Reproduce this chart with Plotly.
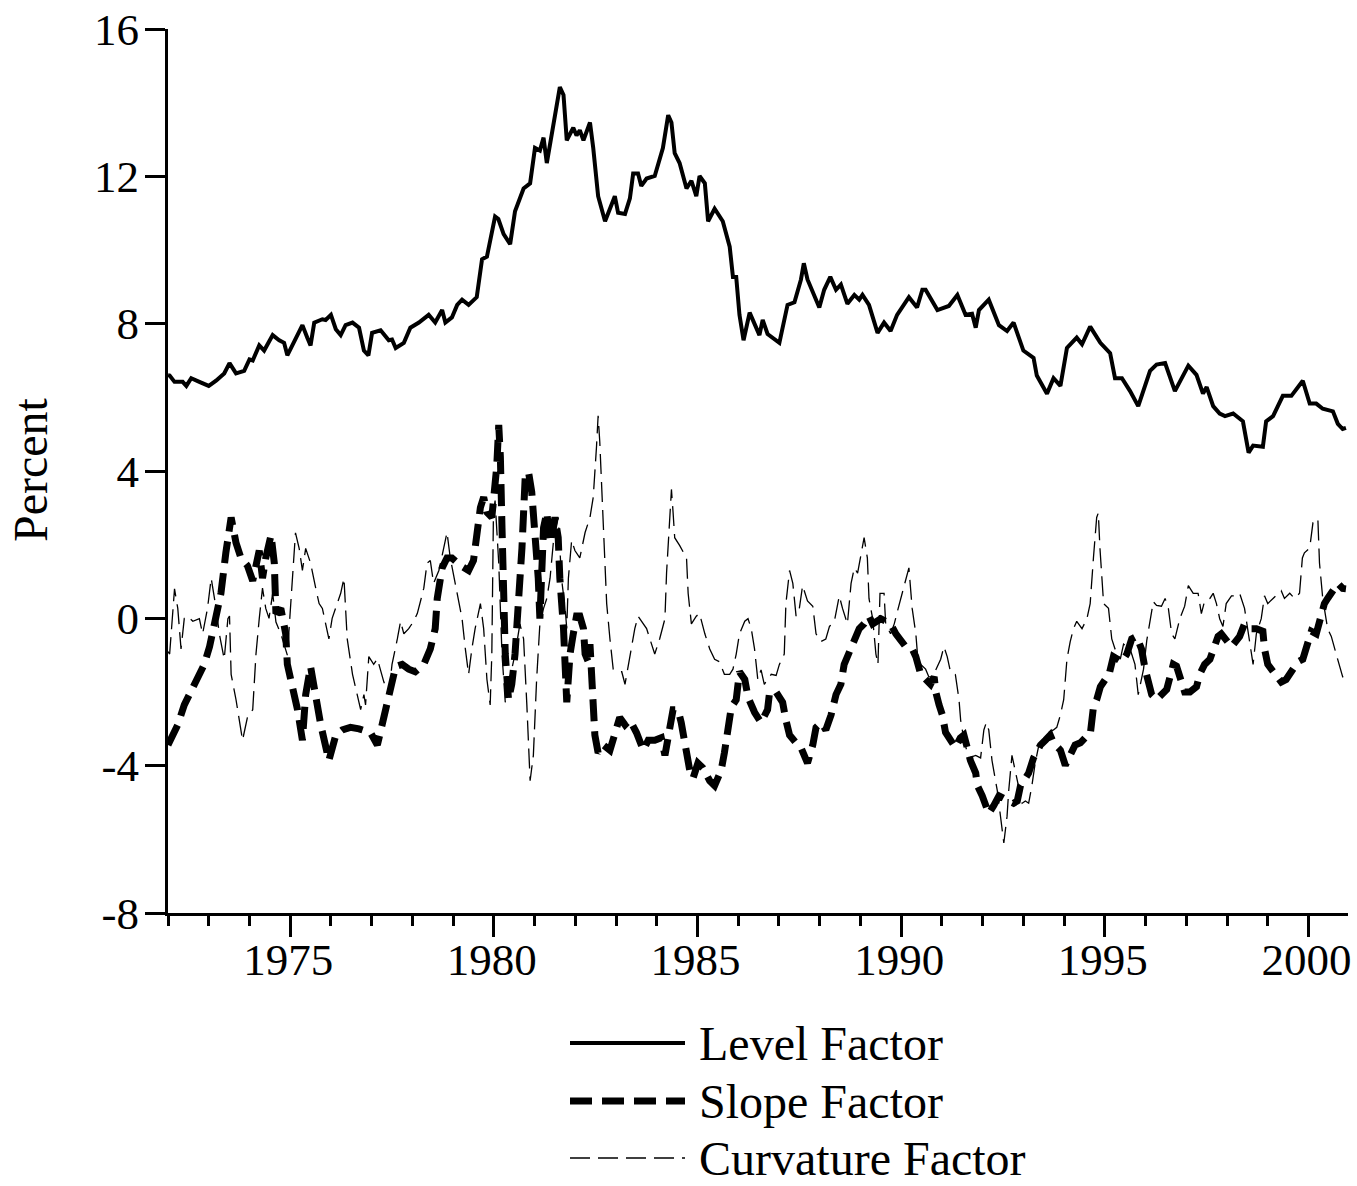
import plotly.graph_objects as go

# ---------------- data ----------------
level_t = [1972.0, 1972.04, 1972.16, 1972.36, 1972.45, 1972.57, 1972.77, 1973.0, 1973.18, 1973.38,
           1973.51, 1973.67, 1973.87, 1974.0, 1974.08, 1974.24, 1974.36, 1974.57, 1974.73, 1974.85,
           1974.93, 1975.06, 1975.14, 1975.3, 1975.42, 1975.5, 1975.59, 1975.79, 1975.87, 1976.0,
           1976.12, 1976.24, 1976.36, 1976.53, 1976.69, 1976.81, 1976.92, 1977.01, 1977.22, 1977.42,
           1977.5, 1977.59, 1977.79, 1977.95, 1978.16, 1978.4, 1978.56, 1978.73, 1978.81, 1978.97,
           1979.1, 1979.22, 1979.38, 1979.58, 1979.71, 1979.83, 1980.03, 1980.11, 1980.24, 1980.4,
           1980.52, 1980.73, 1980.89, 1981.01, 1981.13, 1981.22, 1981.3, 1981.42, 1981.62, 1981.71,
           1981.79, 1981.95, 1982.03, 1982.11, 1982.2, 1982.36, 1982.44, 1982.56, 1982.73, 1982.85,
           1982.97, 1983.05, 1983.22, 1983.34, 1983.42, 1983.54, 1983.62, 1983.75, 1983.95, 1984.15,
           1984.28, 1984.36, 1984.44, 1984.56, 1984.73, 1984.85, 1984.97, 1985.05, 1985.18, 1985.26,
           1985.42, 1985.62, 1985.79, 1985.87, 1985.95, 1986.03, 1986.13, 1986.28, 1986.4, 1986.52,
           1986.6, 1986.72, 1987.01, 1987.21, 1987.38, 1987.54, 1987.61, 1987.7, 1987.99, 1988.11,
           1988.26, 1988.4, 1988.52, 1988.68, 1988.85, 1988.97, 1989.05, 1989.21, 1989.42, 1989.58,
           1989.74, 1989.9, 1990.19, 1990.39, 1990.52, 1990.6, 1990.89, 1991.17, 1991.38, 1991.58,
           1991.74, 1991.83, 1991.91, 1992.15, 1992.4, 1992.6, 1992.76, 1993.0, 1993.25, 1993.33,
           1993.58, 1993.74, 1993.91, 1994.07, 1994.31, 1994.44, 1994.64, 1994.89, 1995.13, 1995.25,
           1995.42, 1995.62, 1995.82, 1996.11, 1996.27, 1996.48, 1996.72, 1996.88, 1997.05, 1997.25,
           1997.41, 1997.5, 1997.66, 1997.82, 1997.95, 1998.15, 1998.39, 1998.53, 1998.64, 1998.88,
           1998.96, 1999.13, 1999.37, 1999.58, 1999.86, 2000.03, 2000.19, 2000.35, 2000.6, 2000.72,
           2000.84, 2000.92]
level_v = [6.6, 6.59, 6.42, 6.42, 6.31, 6.52, 6.42, 6.31, 6.45, 6.65,
           6.93, 6.65, 6.72, 7.03, 7.0, 7.41, 7.27, 7.69, 7.55, 7.48,
           7.14, 7.41, 7.62, 7.96, 7.62, 7.41, 8.03, 8.12, 8.1, 8.24,
           7.85, 7.69, 7.96, 8.03, 7.89, 7.27, 7.14, 7.75, 7.82, 7.55,
           7.57, 7.34, 7.48, 7.89, 8.03, 8.24, 8.03, 8.37, 8.03, 8.17,
           8.51, 8.65, 8.51, 8.72, 9.75, 9.82, 10.91, 10.84, 10.43, 10.16,
           11.05, 11.67, 11.81, 12.77, 12.7, 13.05, 12.36, 13.18, 14.42, 14.21,
           12.98, 13.32, 13.11, 13.25, 12.98, 13.46, 12.77, 11.46, 10.78, 11.12,
           11.46, 11.01, 10.98, 11.4, 12.08, 12.08, 11.74, 11.94, 12.01, 12.77,
           13.66, 13.46, 12.63, 12.36, 11.67, 11.88, 11.46, 12.01, 11.81, 10.78,
           11.12, 10.78, 10.09, 9.27, 9.27, 8.24, 7.55, 8.3, 7.96, 7.69,
           8.1, 7.72, 7.48, 8.51, 8.58, 9.2, 9.64, 9.2, 8.44, 8.92,
           9.27, 8.92, 9.06, 8.54, 8.78, 8.65, 8.78, 8.51, 7.75, 8.03,
           7.8, 8.24, 8.72, 8.44, 8.92, 8.92, 8.37, 8.48, 8.78, 8.24,
           8.27, 7.89, 8.37, 8.65, 7.96, 7.8, 8.03, 7.27, 7.07, 6.59,
           6.1, 6.52, 6.31, 7.34, 7.62, 7.44, 7.92, 7.48, 7.2, 6.52,
           6.52, 6.17, 5.76, 6.72, 6.89, 6.93, 6.17, 6.52, 6.86, 6.61,
           6.1, 6.28, 5.76, 5.56, 5.49, 5.56, 5.35, 4.5, 4.69, 4.66,
           5.35, 5.49, 6.04, 6.04, 6.45, 5.83, 5.83, 5.69, 5.62, 5.28,
           5.14, 5.17]

slope_t = [1972.0, 1972.12, 1972.24, 1972.4, 1972.57, 1972.73, 1972.89, 1973.02, 1973.18, 1973.3,
           1973.42, 1973.55, 1973.67, 1973.79, 1973.95, 1974.08, 1974.24, 1974.32, 1974.4, 1974.53,
           1974.61, 1974.65, 1974.77, 1974.89, 1974.93, 1975.02, 1975.18, 1975.3, 1975.38, 1975.5,
           1975.63, 1975.75, 1975.95, 1976.12, 1976.28, 1976.48, 1976.69, 1976.85, 1976.97, 1977.14,
           1977.26, 1977.34, 1977.46, 1977.59, 1977.75, 1977.91, 1978.07, 1978.28, 1978.44, 1978.56,
           1978.61, 1978.73, 1978.85, 1978.97, 1979.18, 1979.38, 1979.5, 1979.58, 1979.67, 1979.75,
           1979.83, 1979.95, 1980.07, 1980.12, 1980.16, 1980.2, 1980.24, 1980.28, 1980.36, 1980.44,
           1980.52, 1980.6, 1980.69, 1980.77, 1980.85, 1980.93, 1981.01, 1981.09, 1981.13, 1981.22,
           1981.3, 1981.38, 1981.5, 1981.58, 1981.62, 1981.71, 1981.79, 1981.87, 1981.95, 1982.03,
           1982.11, 1982.2, 1982.24, 1982.32, 1982.36, 1982.4, 1982.44, 1982.48, 1982.56, 1982.69,
           1982.85, 1983.01, 1983.09, 1983.22, 1983.34, 1983.5, 1983.67, 1983.79, 1983.95, 1984.11,
           1984.2, 1984.4, 1984.52, 1984.6, 1984.68, 1984.81, 1984.89, 1985.01, 1985.13, 1985.3,
           1985.42, 1985.58, 1985.66, 1985.75, 1985.83, 1985.95, 1986.03, 1986.16, 1986.24, 1986.4,
           1986.56, 1986.72, 1986.77, 1986.93, 1987.09, 1987.17, 1987.26, 1987.42, 1987.54, 1987.7,
           1987.83, 1987.91, 1988.03, 1988.15, 1988.28, 1988.4, 1988.52, 1988.6, 1988.72, 1988.85,
           1988.97, 1989.09, 1989.21, 1989.3, 1989.42, 1989.5, 1989.62, 1989.74, 1989.87, 1989.99,
           1990.11, 1990.27, 1990.36, 1990.48, 1990.6, 1990.72, 1990.81, 1990.85, 1990.93, 1991.01,
           1991.09, 1991.21, 1991.33, 1991.45, 1991.54, 1991.62, 1991.7, 1991.83, 1991.87, 1991.99,
           1992.15, 1992.27, 1992.4, 1992.52, 1992.64, 1992.76, 1992.85, 1992.93, 1993.05, 1993.13,
           1993.25, 1993.42, 1993.54, 1993.66, 1993.74, 1993.91, 1994.03, 1994.15, 1994.27, 1994.4,
           1994.52, 1994.64, 1994.68, 1994.72, 1994.8, 1994.89, 1995.01, 1995.09, 1995.21, 1995.29,
           1995.42, 1995.54, 1995.66, 1995.78, 1995.9, 1995.99, 1996.07, 1996.15, 1996.27, 1996.39,
           1996.52, 1996.6, 1996.68, 1996.76, 1996.84, 1996.96, 1997.09, 1997.25, 1997.33, 1997.45,
           1997.58, 1997.66, 1997.78, 1997.86, 1997.98, 1998.11, 1998.31, 1998.43, 1998.56, 1998.72,
           1998.88, 1998.92, 1999.0, 1999.17, 1999.33, 1999.45, 1999.62, 1999.74, 1999.86, 1999.94,
           2000.07, 2000.19, 2000.31, 2000.39, 2000.47, 2000.64, 2000.72, 2000.84, 2000.92]
slope_v = [-3.44, -3.17, -2.89, -2.35, -1.93, -1.59, -1.25, -0.77, 0.13, 0.68,
           1.78, 2.74, 2.05, 1.64, 1.43, 1.02, 1.84, 1.09, 1.64, 2.26,
           1.5, 0.13, 0.27, -0.42, -1.25, -1.66, -2.48, -3.31, -2.07, -1.31,
           -2.21, -2.89, -3.86, -3.17, -3.03, -2.96, -3.0, -3.03, -3.1, -3.44,
           -2.89, -2.55, -1.93, -1.31, -1.25, -1.38, -1.45, -1.25, -0.83, -0.28,
           0.54, 1.37, 1.64, 1.64, 1.43, 1.3, 1.57, 2.19, 3.01, 3.29,
           2.88, 2.74, 4.11, 5.25, 4.39, 2.46, 0.4, -0.97, -2.21, -1.79,
           -0.97, 0.27, 1.91, 3.84, 3.98, 3.43, 2.46, 1.09, -0.01, 2.46,
           2.88, 2.05, 2.74, 2.19, 1.09, -0.28, -2.28, -0.97, -0.42, 0.06,
           0.06, -0.28, -0.97, -1.18, -0.7, -1.66, -2.48, -3.17, -3.65, -3.44,
           -3.58, -3.03, -2.69, -2.89, -2.76, -3.1, -3.58, -3.31, -3.31, -3.24,
           -3.72, -2.48, -2.48, -2.83, -3.44, -4.13, -4.34, -3.93, -4.06, -4.41,
           -4.54, -4.13, -3.65, -3.03, -2.41, -2.21, -1.45, -1.66, -2.14, -2.55,
           -2.83, -2.48, -2.0, -2.0, -2.28, -2.76, -3.17, -3.38, -3.51, -3.93,
           -3.44, -2.96, -2.83, -3.03, -2.62, -2.07, -1.79, -1.25, -0.97, -0.56,
           -0.28, -0.15, 0.06, -0.15, -0.08, -0.01, -0.08, -0.15, -0.42, -0.63,
           -0.77, -0.83, -1.04, -1.52, -1.66, -1.79, -1.59, -2.0, -2.35, -2.62,
           -3.1, -3.31, -3.51, -3.25, -3.17, -3.5, -3.86, -4.2, -4.54, -4.82,
           -5.3, -5.09, -4.82, -4.89, -4.96, -5.02, -4.96, -4.54, -4.34, -4.2,
           -3.79, -3.44, -3.31, -3.17, -3.38, -3.58, -3.99, -3.72, -3.44, -3.38,
           -3.24, -3.17, -2.76, -2.41, -2.21, -1.86, -1.66, -1.59, -1.04, -1.11,
           -1.18, -0.97, -0.56, -0.49, -0.83, -1.38, -1.66, -2.07, -2.21, -2.07,
           -1.93, -1.59, -1.25, -1.3, -1.59, -2.0, -2.0, -1.86, -1.52, -1.25,
           -1.11, -0.83, -0.49, -0.42, -0.63, -0.77, -0.49, -0.15, -0.28, -0.28,
           -0.35, -0.83, -1.25, -1.52, -1.73, -1.66, -1.38, -1.18, -1.11, -0.77,
           -0.35, -0.42, 0.06, 0.4, 0.54, 0.88, 0.95, 0.81, 0.8]

curv_t = [1972.0, 1972.04, 1972.16, 1972.24, 1972.32, 1972.4, 1972.48, 1972.61, 1972.77, 1972.85,
          1972.97, 1973.06, 1973.1, 1973.18, 1973.26, 1973.38, 1973.47, 1973.51, 1973.55, 1973.67,
          1973.83, 1973.95, 1974.08, 1974.16, 1974.24, 1974.32, 1974.4, 1974.48, 1974.57, 1974.65,
          1974.77, 1974.93, 1975.02, 1975.13, 1975.22, 1975.3, 1975.38, 1975.5, 1975.63, 1975.71,
          1975.79, 1975.95, 1976.03, 1976.12, 1976.24, 1976.32, 1976.4, 1976.53, 1976.65, 1976.73,
          1976.81, 1976.85, 1976.93, 1977.05, 1977.14, 1977.3, 1977.42, 1977.5, 1977.63, 1977.71,
          1977.79, 1977.91, 1978.03, 1978.12, 1978.2, 1978.28, 1978.36, 1978.44, 1978.52, 1978.65,
          1978.77, 1978.85, 1978.93, 1979.05, 1979.14, 1979.22, 1979.3, 1979.38, 1979.46, 1979.54,
          1979.67, 1979.75, 1979.83, 1979.91, 1979.95, 1979.99, 1980.03, 1980.12, 1980.2, 1980.28,
          1980.36, 1980.52, 1980.64, 1980.73, 1980.81, 1980.89, 1980.97, 1981.05, 1981.13, 1981.22,
          1981.3, 1981.38, 1981.46, 1981.54, 1981.58, 1981.66, 1981.75, 1981.79, 1981.83, 1981.91,
          1981.99, 1982.11, 1982.24, 1982.36, 1982.44, 1982.52, 1982.56, 1982.6, 1982.69, 1982.77,
          1982.85, 1982.93, 1983.05, 1983.14, 1983.22, 1983.3, 1983.38, 1983.46, 1983.54, 1983.67,
          1983.75, 1983.83, 1983.95, 1984.07, 1984.2, 1984.24, 1984.28, 1984.36, 1984.4, 1984.44,
          1984.56, 1984.73, 1984.77, 1984.85, 1984.97, 1985.05, 1985.18, 1985.3, 1985.42, 1985.54,
          1985.66, 1985.79, 1985.87, 1985.95, 1986.03, 1986.16, 1986.24, 1986.32, 1986.4, 1986.48,
          1986.56, 1986.64, 1986.81, 1986.93, 1987.01, 1987.13, 1987.17, 1987.26, 1987.34, 1987.42,
          1987.5, 1987.58, 1987.7, 1987.83, 1987.91, 1988.03, 1988.15, 1988.24, 1988.36, 1988.48,
          1988.56, 1988.68, 1988.77, 1988.85, 1988.93, 1989.01, 1989.09, 1989.17, 1989.21, 1989.3,
          1989.38, 1989.43, 1989.48, 1989.58, 1989.62, 1989.74, 1989.83, 1989.91, 1989.99, 1990.11,
          1990.19, 1990.27, 1990.36, 1990.4, 1990.48, 1990.6, 1990.68, 1990.77, 1990.85, 1990.97,
          1991.05, 1991.13, 1991.21, 1991.33, 1991.42, 1991.46, 1991.54, 1991.66, 1991.83, 1991.95,
          1992.03, 1992.09, 1992.15, 1992.23, 1992.36, 1992.44, 1992.52, 1992.6, 1992.64, 1992.72,
          1992.8, 1992.89, 1992.97, 1993.05, 1993.13, 1993.21, 1993.29, 1993.38, 1993.5, 1993.62,
          1993.74, 1993.82, 1993.91, 1993.99, 1994.07, 1994.15, 1994.23, 1994.31, 1994.44, 1994.56,
          1994.64, 1994.72, 1994.8, 1994.84, 1994.88, 1994.97, 1995.09, 1995.17, 1995.25, 1995.38,
          1995.46, 1995.62, 1995.74, 1995.82, 1995.95, 1996.03, 1996.11, 1996.19, 1996.27, 1996.39,
          1996.48, 1996.56, 1996.64, 1996.72, 1996.84, 1996.96, 1997.05, 1997.17, 1997.29, 1997.37,
          1997.45, 1997.58, 1997.66, 1997.74, 1997.82, 1997.9, 1997.98, 1998.11, 1998.23, 1998.31,
          1998.43, 1998.52, 1998.6, 1998.64, 1998.72, 1998.84, 1998.92, 1999.0, 1999.13, 1999.25,
          1999.33, 1999.41, 1999.54, 1999.66, 1999.78, 1999.85, 1999.9, 2000.03, 2000.11, 2000.19,
          2000.23, 2000.27, 2000.35, 2000.47, 2000.56, 2000.68, 2000.84, 2000.92]
curv_v = [-0.9, -0.97, 0.8, 0.27, -0.83, 0.0, 0.06, -0.08, -0.01, -0.42,
          0.27, 1.09, 0.82, 0.27, -0.42, -1.11, -0.01, 0.06, -1.52, -2.21,
          -3.31, -2.69, -2.48, -0.97, -0.01, 0.82, 0.27, 0.0, 0.68, -0.1,
          -0.42, -1.0, 0.5, 2.32, 1.9, 1.3, 1.9, 1.5, 0.8, 0.4,
          0.27, -0.56, 0.0, 0.27, 0.68, 1.09, -0.56, -1.52, -2.07, -2.48,
          -2.07, -2.35, -1.04, -1.25, -1.1, -1.73, -2.07, -1.25, -0.56, -0.08,
          -0.42, -0.28, -0.08, 0.13, 0.47, 0.82, 1.5, 1.57, 0.95, 1.3,
          1.91, 2.33, 1.64, 0.95, 0.4, -0.01, -0.83, -1.52, -0.83, -0.28,
          0.4, -0.28, -1.66, -2.35, -0.97, 2.88, 3.2, 1.5, -0.97, -2.28,
          -1.79, -0.97, -0.15, -0.56, -2.35, -4.41, -3.72, -1.66, -0.15, 0.27,
          0.54, 1.09, 2.05, 2.46, 2.74, 1.09, 0.27, -0.28, 1.09, 2.12,
          1.84, 1.64, 2.33, 2.74, 3.29, 4.66, 5.5, 4.8, 2.46, 0.4,
          -0.56, -1.38, -1.45, -1.45, -1.79, -1.25, -0.7, -0.28, 0.06, -0.15,
          -0.28, -0.56, -0.97, -0.56, -0.01, 1.23, 2.05, 3.5, 2.88, 2.19,
          1.98, 1.64, 0.68, -0.15, 0.06, 0.13, -0.42, -0.83, -1.11, -1.18,
          -1.52, -1.52, -1.38, -0.97, -0.42, -0.08, -0.01, -0.28, -0.83, -1.66,
          -1.4, -1.79, -1.52, -1.55, -1.25, -0.97, 0.4, 1.3, 0.95, 0.06,
          0.27, 0.89, 0.47, 0.33, -0.42, -0.63, -0.56, -0.22, -0.08, 0.61,
          0.27, -0.15, 0.95, 1.37, 1.23, 1.71, 2.19, 1.64, 0.54, -0.01,
          -0.97, -1.25, 0.68, 0.68, -0.15, -0.42, -0.15, 0.2, 0.54, 1.09,
          1.37, 0.27, -0.42, -0.97, -1.25, -1.38, -1.59, -1.59, -1.38, -1.11,
          -0.77, -1.04, -1.45, -1.52, -2.21, -2.76, -3.3, -3.79, -3.72, -3.79,
          -3.03, -2.83, -3.03, -3.86, -4.68, -5.37, -6.1, -5.37, -4.68, -3.72,
          -4.13, -4.61, -5.02, -4.96, -5.02, -4.54, -3.93, -3.44, -3.31, -3.1,
          -3.03, -2.96, -2.62, -2.21, -1.11, -0.63, -0.28, -0.08, -0.28, -0.01,
          0.4, 1.64, 2.74, 2.86, 1.91, 0.4, 0.27, -0.56, -0.83, -1.11,
          -0.7, -0.83, -1.25, -2.07, -1.38, -0.6, -0.01, 0.45, 0.35, 0.33,
          0.54, 0.27, -0.42, -0.56, -0.01, 0.33, 0.89, 0.68, 0.68, 0.13,
          0.47, 0.54, 0.68, 0.4, -0.01, -0.22, 0.4, 0.61, 0.61, 0.68,
          0.27, -0.42, -0.97, -1.25, -0.42, -0.01, 0.61, 0.4, 0.54, 0.68,
          0.75, 0.54, 0.68, 0.54, 0.68, 1.64, 1.78, 1.91, 2.6, 2.7,
          2.7, 1.5, 0.54, -0.28, -0.49, -0.97, -1.59, -1.65]

year_ticks = [1975, 1980, 1985, 1990, 1995, 2000]
y_ticks = [-8, -4, 0, 4, 8, 12, 16]
legend_names = ["Level Factor", "Slope Factor", "Curvature Factor"]

FONT = "Liberation Serif, Times New Roman, serif"
TICK_FS = 45
LEG_FS = 48

# ---------------- figure ----------------
styles = [
    dict(color="black", width=4),
    dict(color="black", width=7, dash="22px,10px"),
    dict(color="black", width=1.3, dash="20px,8px"),
]

fig = go.Figure()
fig.add_trace(go.Scatter(x=curv_t, y=curv_v, mode="lines", line=styles[2],
                         name=legend_names[2], showlegend=False))
fig.add_trace(go.Scatter(x=slope_t, y=slope_v, mode="lines", line=styles[1],
                         name=legend_names[1], showlegend=False))
fig.add_trace(go.Scatter(x=level_t, y=level_v, mode="lines", line=styles[0],
                         name=legend_names[0], showlegend=False))

# page body margin is removed by post_script, so the figure fills the window
W, H = 1357, 1186
ML, MR, MT, MB = 168, 9, 29, 273
pw, ph = W - ML - MR, H - MT - MB


def page_to_paper(xp, yp):
    return (xp - ML) / pw, (H - MB - yp) / ph


# manual legend (long line samples as in the reference)
shapes = []
annotations = []
rows_y = [1043, 1101, 1158]
for name, st, ry in zip(legend_names, styles, rows_y):
    x0, y0 = page_to_paper(570, ry)
    x1, _ = page_to_paper(685, ry)
    shapes.append(dict(type="line", xref="paper", yref="paper", x0=x0, x1=x1, y0=y0, y1=y0,
                       line=st, layer="above"))
    tx, ty = page_to_paper(697, ry)
    annotations.append(dict(text=name, xref="paper", yref="paper", x=tx, y=ty,
                            xanchor="left", yanchor="middle", showarrow=False,
                            font=dict(family=FONT, size=LEG_FS, color="black")))

# y-axis title
ax_, ay_ = page_to_paper(30, 470)
annotations.append(dict(text="Percent", xref="paper", yref="paper", x=ax_, y=ay_,
                        xanchor="center", yanchor="middle", textangle=-90, showarrow=False,
                        font=dict(family=FONT, size=48, color="black")))

fig.update_layout(
    width=W, height=H,
    margin=dict(l=ML, r=MR, t=MT, b=MB, autoexpand=False),
    paper_bgcolor="white", plot_bgcolor="white",
    font=dict(family=FONT, size=TICK_FS, color="black"),
    shapes=shapes, annotations=annotations,
    showlegend=False,
)
fig.update_xaxes(
    range=[1972, 2000.97], tickmode="array", tickvals=year_ticks,
    ticktext=[str(v) for v in year_ticks],
    ticks="outside", ticklen=21, tickwidth=2.5, tickcolor="black",
    ticklabelstandoff=-16, ticklabeloverflow="allow", ticklabelshift=-2,
    showline=True, linewidth=3, linecolor="black",
    showgrid=False, zeroline=False,
    tickfont=dict(family=FONT, size=TICK_FS, color="black"),
    minor=dict(tick0=1972, dtick=1, ticks="outside", ticklen=10, tickwidth=2.5,
               tickcolor="black", showgrid=False),
)
fig.update_yaxes(
    range=[-8, 16], tickmode="array", tickvals=y_ticks,
    ticktext=[str(v) for v in y_ticks],
    ticks="outside", ticklen=20, tickwidth=2.5, tickcolor="black",
    ticklabelstandoff=-3, ticklabeloverflow="allow",
    showline=True, linewidth=3, linecolor="black",
    showgrid=False, zeroline=False,
    tickfont=dict(family=FONT, size=TICK_FS, color="black"),
)

fig.write_html(
    "out.html",
    config={"displayModeBar": False},
    post_script="document.body.style.margin='0';document.body.style.overflow='hidden';",
)
